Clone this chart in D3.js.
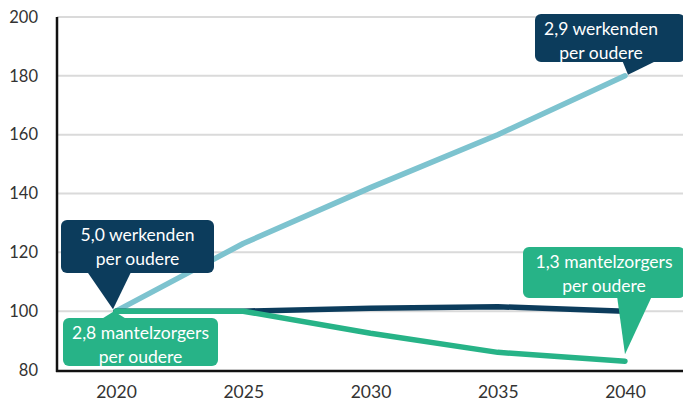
<!DOCTYPE html>
<html>
<head>
<meta charset="utf-8">
<script src="https://cdn.jsdelivr.net/npm/d3@7"></script>
<style>
  html, body { margin: 0; padding: 0; background: #fff; }
  svg { display: block; font-family: Lato, "Open Sans", sans-serif; }
</style>
</head>
<body>
<div id="chart"></div>
<script>
const years = [2020, 2025, 2030, 2035, 2040];
const werkenden = [100, 123, 142, 160, 180];
const ouderen = [100, 100, 101, 101.5, 100];
const mantelzorgers = [100, 100, 92.5, 86, 83];
const yTicks = [80, 100, 120, 140, 160, 180, 200];

const labelWerkStart = ["5,0 werkenden", "per oudere"];
const labelWerkEnd = ["2,9 werkenden", "per oudere"];
const labelZorgStart = ["2,8 mantelzorgers", "per oudere"];
const labelZorgEnd = ["1,3 mantelzorgers", "per oudere"];

const width = 683;
const height = 407;
const navy = "#0c3c5c";
const green = "#27b387";
const lightBlue = "#7dc3cf";

const x = d3.scaleLinear().domain([2020, 2040]).range([116, 625]);
const y = d3.scaleLinear().domain([80, 200]).range([370, 17]);

const svg = d3.select("#chart")
    .append("svg")
    .attr("width", width)
    .attr("height", height);

// gridlines
svg.append("g")
    .selectAll("line")
    .data(yTicks.filter(t => t > 80))
    .join("line")
    .attr("x1", 57)
    .attr("x2", width)
    .attr("y1", d => y(d))
    .attr("y2", d => y(d))
    .attr("stroke", "#dadada")
    .attr("stroke-width", 2);

// y axis labels
const yAxis = svg.append("g")
    .attr("transform", "translate(57,0)")
    .call(d3.axisLeft(y).tickValues(yTicks).tickSize(0).tickPadding(19));
yAxis.select(".domain").remove();
yAxis.selectAll("text")
    .attr("font-size", 16.5)
    .attr("fill", "#333")
    .attr("font-family", "Lato, sans-serif");

// x axis labels
const xAxis = svg.append("g")
    .attr("transform", "translate(0,371)")
    .call(d3.axisBottom(x).tickValues(years).tickFormat(d3.format("d")).tickSize(0).tickPadding(15));
xAxis.select(".domain").remove();
xAxis.selectAll("text")
    .attr("font-size", 17.5)
    .attr("fill", "#333")
    .attr("font-family", "Lato, sans-serif");

// axis lines
svg.append("line")
    .attr("x1", 57).attr("x2", 57)
    .attr("y1", y(200)).attr("y2", 372)
    .attr("stroke", "#111").attr("stroke-width", 2.5);
svg.append("line")
    .attr("x1", 56).attr("x2", width)
    .attr("y1", 371).attr("y2", 371)
    .attr("stroke", "#111").attr("stroke-width", 2.5);

// lines
const line = d3.line()
    .x((d, i) => x(years[i]))
    .y(d => y(d));

[[werkenden, lightBlue], [ouderen, navy], [mantelzorgers, green]].forEach(([vals, color]) => {
    svg.append("path")
        .datum(vals)
        .attr("d", line)
        .attr("fill", "none")
        .attr("stroke", color)
        .attr("stroke-width", 5.5)
        .attr("stroke-linecap", "round")
        .attr("stroke-linejoin", "round");
});

// callouts: box + pointer towards a data point
function callout(lines, color, box, base, tip, textX) {
    const g = svg.append("g");
    g.append("rect")
        .attr("x", box.x).attr("y", box.y)
        .attr("width", box.w).attr("height", box.h)
        .attr("rx", 6)
        .attr("fill", color);
    g.append("path")
        .attr("d", `M${base[0][0]},${base[0][1]}L${tip[0]},${tip[1]}L${base[1][0]},${base[1][1]}Z`)
        .attr("fill", color);
    g.selectAll("text")
        .data(lines)
        .join("text")
        .attr("x", textX != null ? textX : box.x + box.w / 2)
        .attr("y", (d, i) => box.y + 15 + i * 23.5)
        .attr("dy", "0.35em")
        .attr("text-anchor", "middle")
        .attr("fill", "#fff")
        .attr("font-size", 17.5)
        .attr("font-family", "Lato, sans-serif")
        .text(d => d);
}

callout(labelWerkStart, navy,
    { x: 61, y: 220, w: 153, h: 53 },
    [[86, 270], [132, 270]], [x(2020) - 3, y(werkenden[0]) - 2]);

callout(labelZorgStart, green,
    { x: 63, y: 318, w: 155, h: 48 },
    [[100, 320], [128, 320]], [x(2020) - 2, y(mantelzorgers[0])]);

callout(labelWerkEnd, navy,
    { x: 535, y: 14, w: 150, h: 48 },
    [[622, 60], [658, 60]], [x(2040) + 3, y(werkenden[4]) - 1], 601);

callout(labelZorgEnd, green,
    { x: 523, y: 247, w: 162, h: 51 },
    [[617, 296], [652, 296]], [x(2040), y(mantelzorgers[4]) - 7], 604);
</script>
</body>
</html>
